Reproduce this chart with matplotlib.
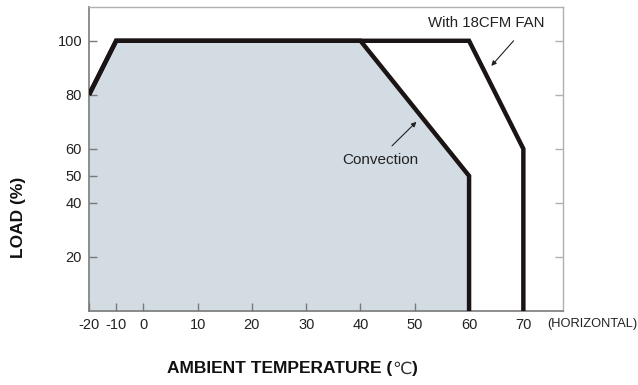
import numpy as np
import matplotlib
matplotlib.use('Agg')
import matplotlib.pyplot as plt

#  Derating curves (ambient temperature in degC, load in %)
temp_conv = [-20, -10, 40, 60, 60]
load_conv = [80, 100, 100, 50, 0]
temp_fan = [-20, -10, 60, 70, 70]
load_fan = [80, 100, 100, 60, 0]

x_ticks = [-20, -10, 0, 10, 20, 30, 40, 50, 60, 70]
y_ticks_left = [20, 40, 50, 60, 80, 100]
y_ticks_right = [20, 40, 60, 80, 100]

plt.rcParams['font.family'] = ['Liberation Sans', 'DejaVu Sans']


#  Negative temperatures are drawn at half scale
def fwd(x):
    x = np.asarray(x, dtype=float)
    return np.where(x < 0, x / 2.0, x)


def inv(u):
    u = np.asarray(u, dtype=float)
    return np.where(u < 0, u * 2.0, u)


W, H = 638, 385
fig = plt.figure(figsize=(W / 100, H / 100), dpi=100)
ax = fig.add_axes([89 / W, 1 - 311 / H, (563 - 89) / W, (311 - 7) / H])
ax.set_xscale('function', functions=(fwd, inv))
ax.set_xlim(-20, 77.3)
ax.set_ylim(0, 112.5)

fill_color = '#d3dbe3'
line_color = '#1a1414'
txt_color = '#222222'

ax.fill_between(temp_conv, load_conv, 0, color=fill_color, lw=0, zorder=1)
ax.plot(temp_fan, load_fan, color=line_color, lw=3.2,
        solid_joinstyle='miter', solid_capstyle='butt', zorder=3)
ax.plot(temp_conv, load_conv, color=line_color, lw=3.2,
        solid_joinstyle='miter', solid_capstyle='butt', zorder=3)

#  Frame
for s in ['left', 'bottom']:
    ax.spines[s].set_color('#7a7a7a')
    ax.spines[s].set_linewidth(1.2)
for s in ['top', 'right']:
    ax.spines[s].set_color('#b0b0b0')
    ax.spines[s].set_linewidth(1.0)

ax.set_xticks(x_ticks)
ax.set_xticklabels([str(t) for t in x_ticks])
ax.set_yticks(y_ticks_left)
ax.set_yticklabels([str(t) for t in y_ticks_left])
ax.tick_params(axis='x', direction='in', length=6, width=1, color='#7a7a7a',
               labelsize=10.5, pad=5, labelcolor=txt_color)
ax.tick_params(axis='y', direction='in', length=6, width=1, color='#7a7a7a',
               labelsize=10.5, pad=5, labelcolor=txt_color)

#  Right side ticks without labels
ax2 = ax.twinx()
ax2.set_ylim(0, 112.5)
ax2.set_yticks(y_ticks_right)
ax2.set_yticklabels([])
ax2.tick_params(axis='y', direction='in', length=6, width=1, color='#b0b0b0')
for s in ax2.spines.values():
    s.set_visible(False)

ax.annotate('', xy=(64.1, 90.7), xytext=(68.2, 100),
            arrowprops=dict(arrowstyle='-|>', color=txt_color, lw=0.8,
                            mutation_scale=7, shrinkA=0, shrinkB=0))
ax.text(63.1, 106.7, 'With 18CFM FAN', ha='center', va='center',
        fontsize=10.8, color=txt_color)

ax.annotate('', xy=(50.3, 70), xytext=(45.8, 61.1),
            arrowprops=dict(arrowstyle='-|>', color=txt_color, lw=0.8,
                            mutation_scale=7, shrinkA=0, shrinkB=0))
ax.text(43.6, 55.9, 'Convection', ha='center', va='center',
        fontsize=11, color=txt_color)

fig.text(547 / W, 1 - 324 / H, '(HORIZONTAL)', ha='left', va='center',
         fontsize=9.3, color=txt_color)

fig.text(18.5 / W, 1 - 217 / H, 'LOAD (%)', rotation=90, ha='center',
         va='center', fontsize=12.5, fontweight='bold', color='#111111')

#  x title: bold words, thin degree sign
t1 = fig.text(167 / W, 1 - 369 / H, 'AMBIENT TEMPERATURE (', ha='left',
              va='center', fontsize=12.5, fontweight='bold', color='#111111')
fig.canvas.draw()
r = fig.canvas.get_renderer()
x1 = t1.get_window_extent(r).x1
t2 = fig.text(x1 / W, 1 - 369 / H, '\u2103', ha='left', va='center',
              fontsize=12.5, color='#333333', family=['DejaVu Sans'])
fig.canvas.draw()
x2 = t2.get_window_extent(r).x1
fig.text(x2 / W, 1 - 369 / H, ')', ha='left', va='center',
         fontsize=12.5, fontweight='bold', color='#111111')

fig.savefig('out.png', dpi=100)
